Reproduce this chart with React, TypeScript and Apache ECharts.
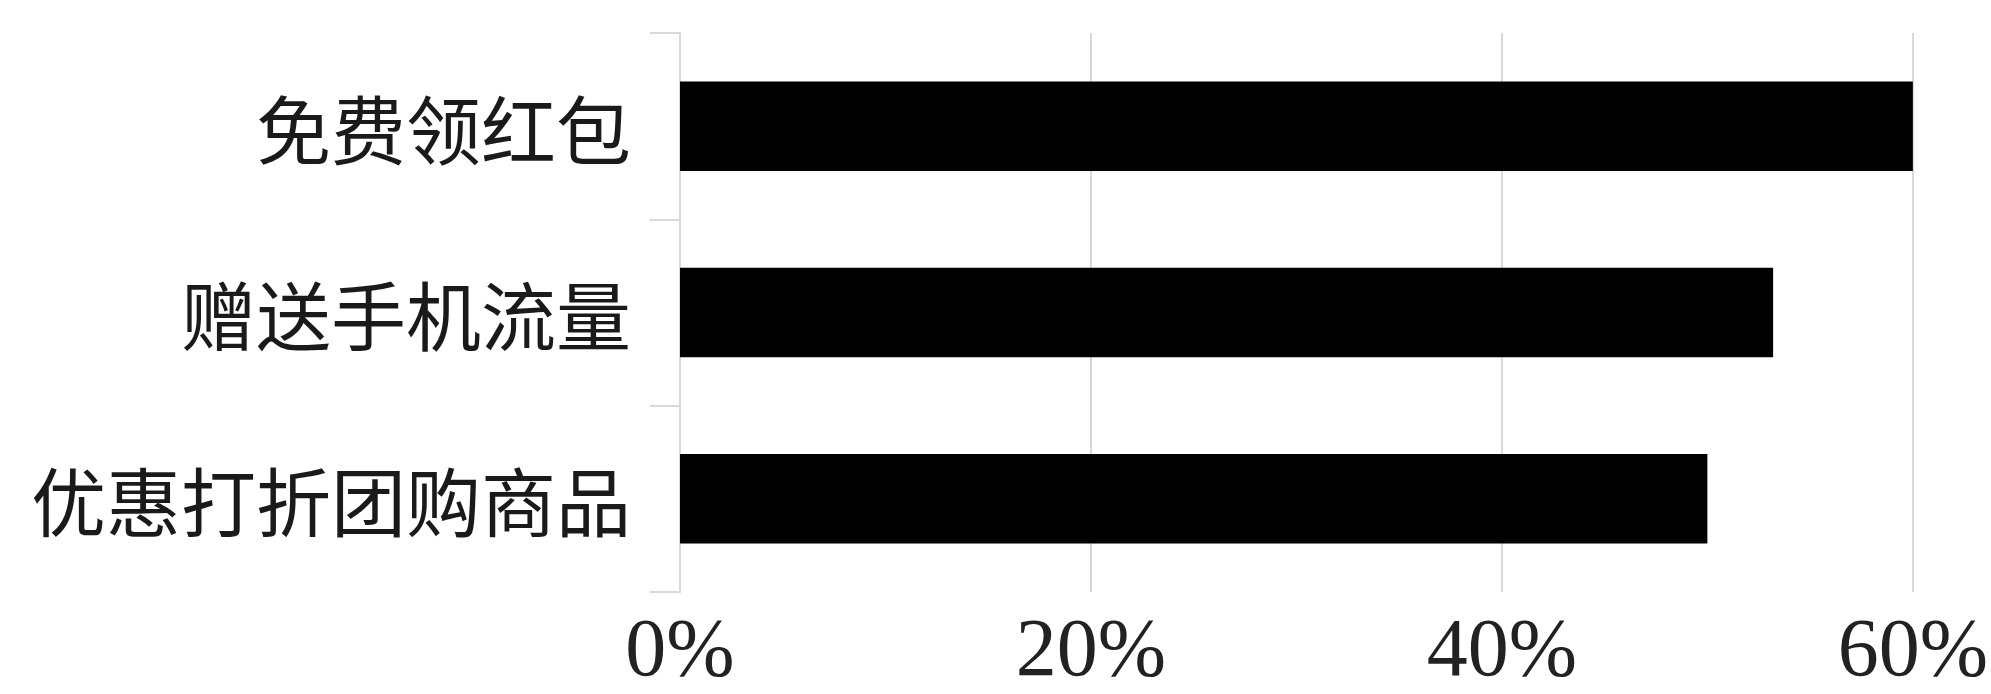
import React, { useEffect, useRef } from "react";
import * as echarts from "echarts";

const categories: string[] = ["免费领红包", "赠送手机流量", "优惠打折团购商品"];
const values: number[] = [0.601, 0.532, 0.5];
const axisMin = 0;
const axisMax = 0.6;
const axisInterval = 0.2;

export default function App() {
  const ref = useRef<HTMLDivElement>(null);

  useEffect(() => {
    if (!ref.current) return;
    const chart = echarts.init(ref.current, undefined, { renderer: "svg" });
    chart.setOption({
      animation: false,
      backgroundColor: "#ffffff",
      grid: { left: 680, right: 76, top: 33, bottom: 102, containLabel: false },
      xAxis: {
        type: "value",
        min: axisMin,
        max: axisMax,
        interval: axisInterval,
        axisLine: { show: false },
        axisTick: { show: false },
        splitLine: { show: true, lineStyle: { color: "#d9d9d9", width: 2 } },
        axisLabel: {
          formatter: (v: number) => `${Math.round(v * 100)}%`,
          fontFamily: "Liberation Serif",
          fontSize: 82,
          color: "#222222",
          margin: 14,
        },
      },
      yAxis: {
        type: "category",
        data: categories,
        inverse: true,
        axisLine: { show: true, lineStyle: { color: "#d9d9d9", width: 2 } },
        axisTick: { show: true, length: 30, lineStyle: { color: "#d9d9d9", width: 2 } },
        splitLine: { show: false },
        axisLabel: {
          fontFamily: "Noto Sans CJK SC",
          fontSize: 75,
          color: "#1a1a1a",
          margin: 49,
        },
      },
      series: [
        {
          type: "bar",
          data: values,
          barWidth: "48%",
          itemStyle: { color: "#000000" },
        },
      ],
    });
    return () => chart.dispose();
  }, []);

  return (
    <div
      ref={ref}
      style={{ position: "fixed", left: 0, top: 0, width: 1991, height: 694 }}
    />
  );
}
